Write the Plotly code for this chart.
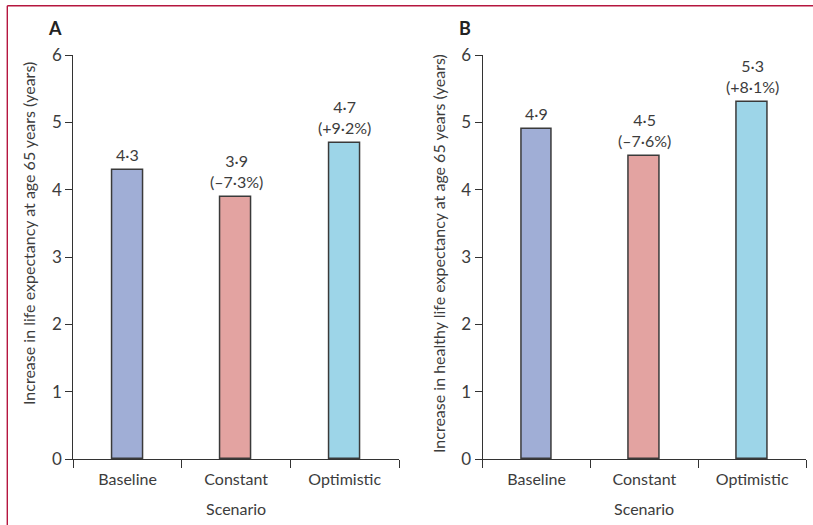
import plotly.graph_objects as go

# Scenario results (years gained at age 65)
scenarios = ["Baseline", "Constant", "Optimistic"]
life_exp = [4.3, 3.9, 4.7]
life_exp_pct = [None, -7.3, 9.2]
healthy_exp = [4.9, 4.5, 5.3]
healthy_exp_pct = [None, -7.6, 8.1]
y_ticks = [0, 1, 2, 3, 4, 5, 6]

bar_colors = ["#a0aed6", "#e3a3a1", "#9dd5e8"]
edge_color = "#3a3a3a"
text_color = "#3c3c3c"
accent = "#b5163f"
FONT = "Lato"

W, H = 813, 525


def px_x(p):
    return p / W


def px_y(p):
    return 1 - p / H


def fmt(v):
    return f"{v:.1f}".replace(".", "·")


def label(v, pct):
    s = fmt(v)
    if pct is not None:
        sign = "+" if pct > 0 else "–"
        s += "<br>(" + sign + fmt(abs(pct)) + "%)"
    return s


fig = go.Figure()

panels = [
    ("x", "y", life_exp, life_exp_pct),
    ("x2", "y2", healthy_exp, healthy_exp_pct),
]

for xa, ya, vals, pcts in panels:
    fig.add_trace(go.Bar(
        x=scenarios, y=vals, xaxis=xa, yaxis=ya,
        width=0.285,
        marker=dict(color=bar_colors, line=dict(color=edge_color, width=1.5)),
        hoverinfo="skip", showlegend=False,
    ))
    for s, v, p in zip(scenarios, vals, pcts):
        fig.add_annotation(
            x=s, y=v, xref=xa, yref=ya, text=label(v, p),
            showarrow=False, yanchor="bottom", yshift=4,
            font=dict(family=FONT, size=16, color=text_color),
        )

line_style = dict(
    showline=True, linecolor="#333333", linewidth=1.3,
    ticks="outside", tickwidth=1.3, tickcolor="#333333",
    showgrid=False, zeroline=False,
    automargin=False,
)
y_dom = [px_y(459.3), px_y(55)]
x_style = dict(type="category", range=[-0.5, 2.5], tickson="boundaries",
               ticklen=8, ticklabelstandoff=5,
               tickfont=dict(family=FONT, size=16, color=text_color), **line_style)
y_style = dict(domain=y_dom, range=[0, 6], tickvals=y_ticks, ticklen=7,
               tickfont=dict(family=FONT, size=17, color=text_color), **line_style)

fig.update_layout(
    width=W, height=H,
    margin=dict(l=0, r=0, t=0, b=0),
    paper_bgcolor="white", plot_bgcolor="white",
    bargap=0,
    xaxis=dict(domain=[px_x(73.3), px_x(399)], anchor="y", **x_style),
    xaxis2=dict(domain=[px_x(482.7), px_x(806)], anchor="y2", **x_style),
    yaxis=dict(anchor="x", **y_style),
    yaxis2=dict(anchor="x2", **y_style),
)

# Axis titles and panel letters
titles = [
    ("Scenario", px_x(236), px_y(508), 0, 16, False),
    ("Scenario", px_x(644), px_y(508), 0, 16, False),
    ("Increase in life expectancy at age 65 years (years)", px_x(28), px_y(234), -90, 16, False),
    ("Increase in healthy life expectancy at age 65 years (years)", px_x(438), px_y(254), -90, 16, False),
    ("<b>A</b>", px_x(55), px_y(28), 0, 18, True),
    ("<b>B</b>", px_x(465), px_y(28), 0, 18, True),
]
for txt, x, y, ang, size, bold in titles:
    fig.add_annotation(
        text=txt, x=x, y=y, xref="paper", yref="paper",
        xanchor="center", yanchor="middle", textangle=ang, showarrow=False,
        font=dict(family=FONT, size=size, color="#222222" if bold else text_color),
    )

# Frame rule along the top and left edges
fig.add_shape(type="line", xref="paper", yref="paper",
              x0=px_x(7.3), x1=1, y0=px_y(5.7), y1=px_y(5.7),
              line=dict(color=accent, width=1.4))
fig.add_shape(type="line", xref="paper", yref="paper",
              x0=px_x(7.3), x1=px_x(7.3), y0=px_y(5.7), y1=0,
              line=dict(color=accent, width=1.4))

fig.write_html("out.html")
